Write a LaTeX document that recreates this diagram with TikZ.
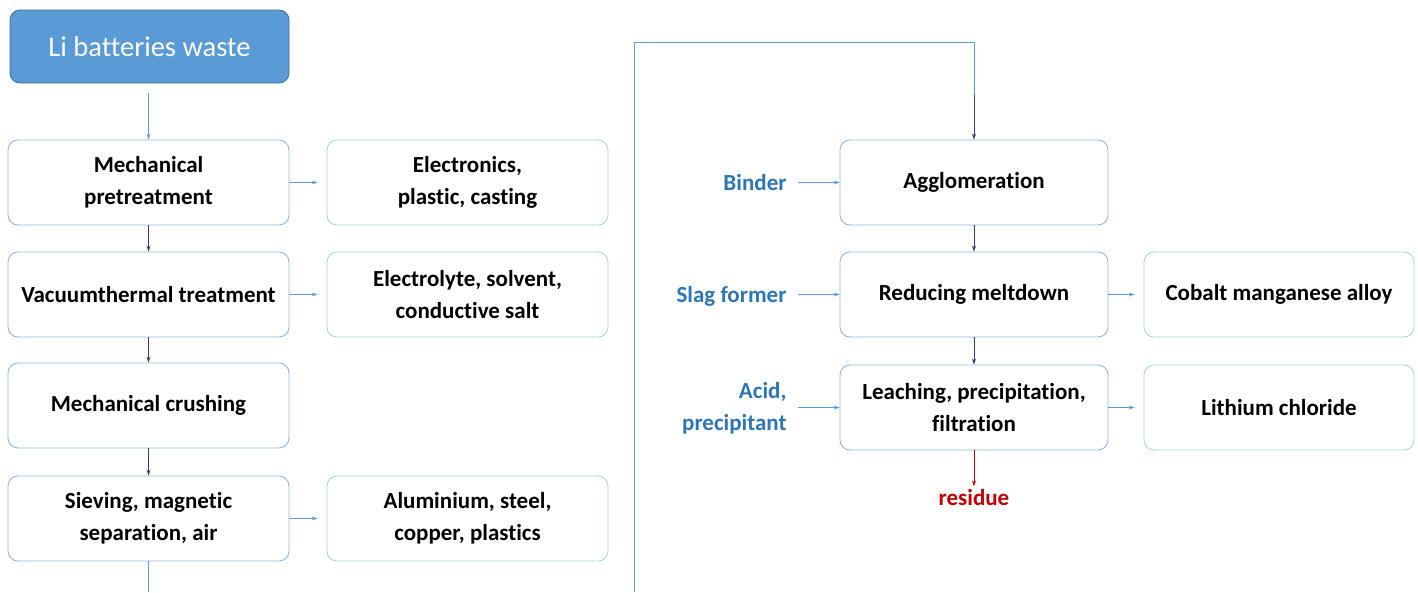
\documentclass[tikz,border=0pt]{standalone}
\usepackage{fontspec}
\setmainfont{Carlito}[Ligatures=CommonOff]
\usetikzlibrary{arrows.meta}
\definecolor{boxblue}{HTML}{8EB4E3}
\definecolor{boxgreen}{HTML}{A9D9C4}
\definecolor{wasteblue}{HTML}{5B9BD5}
\definecolor{wasteedge}{HTML}{41719C}
\definecolor{arrowblue}{HTML}{5B9BD5}
\definecolor{navy}{HTML}{2F3F73}
\definecolor{labelblue}{HTML}{2E75B6}
\definecolor{residuered}{HTML}{C00000}
\tikzset{
  stage/.style={draw=boxblue, line width=0.9pt, rounded corners=10pt, minimum width=281pt,
    minimum height=85pt, inner sep=0pt, align=center, font=\bfseries\fontsize{23}{32}\selectfont},
  product/.style={stage, draw=boxgreen},
  feed/.style={anchor=east, align=right, text=labelblue, font=\bfseries\fontsize{23}{32}\selectfont},
  flow/.style={draw=navy, line width=0.9pt, -{Stealth[length=6pt,width=4pt]}},
  side/.style={draw=arrowblue, line width=0.9pt, -{Stealth[length=6pt,width=4pt]}},
  loop/.style={draw=arrowblue, line width=0.9pt}
}
\begin{document}
\begin{tikzpicture}[x=1pt,y=-1pt]
\useasboundingbox (0,0) rectangle (1418,592);
\node[draw=wasteedge, fill=wasteblue, line width=0.9pt, rounded corners=10pt, minimum width=279pt,
  minimum height=73pt, text=white, font=\fontsize{28.5}{32}\selectfont] (waste) at (149.5,46.5) {Li batteries waste};
% left column
\node[stage] (pretreat) at (148.5,182.5) {Mechanical\\pretreatment};
\node[stage] (vacuum) at (148.5,294.5) {Vacuumthermal treatment};
\node[stage] (crush) at (148.5,405.5) {Mechanical crushing};
\node[stage] (sieve) at (148.5,518.5) {Sieving, magnetic\\separation, air};
\node[product] (electronics) at (467.5,182.5) {Electronics,\\plastic, casting};
\node[product] (electrolyte) at (467.5,294.5) {Electrolyte, solvent,\\conductive salt};
\node[product] (metals) at (467.5,518.5) {Aluminium, steel,\\copper, plastics};
\draw[side] (pretreat.north |- waste.south) ++(0,10) -- (pretreat.north);
\draw[flow] (pretreat) -- (vacuum);
\draw[flow] (vacuum) -- (crush);
\draw[flow] (crush) -- (sieve);
\draw[side, shorten >=9pt] (pretreat) -- (electronics);
\draw[side, shorten >=9pt] (vacuum) -- (electrolyte);
\draw[side, shorten >=9pt] (sieve) -- (metals);
% right column
\node[stage, minimum width=268pt] (agglo) at (974,182.5) {Agglomeration};
\node[stage, minimum width=268pt] (melt) at (974,294.5) {Reducing meltdown};
\node[stage, minimum width=268pt] (leach) at (974,407.5) {Leaching, precipitation,\\filtration};
\node[product, minimum width=270pt] (alloy) at (1279,294.5) {Cobalt manganese alloy};
\node[product, minimum width=270pt] (licl) at (1279,407.5) {Lithium chloride};
\node[feed] (binder) at (790,183) {Binder};
\node[feed] (slag) at (790,296) {Slag former};
\node[feed] (acid) at (790,408) {Acid,\\precipitant};
\node[text=residuered, font=\bfseries\fontsize{23}{26}\selectfont] (residue) at (974,498) {residue};
\draw[side, shorten <=8pt] (binder.east |- agglo.west) -- (agglo.west);
\draw[side, shorten <=8pt] (slag.east |- melt.west) -- (melt.west);
\draw[side, shorten <=8pt] (acid.east |- leach.west) -- (leach.west);
\draw[flow] (agglo) -- (melt);
\draw[flow] (melt) -- (leach);
\draw[side, shorten >=9pt] (melt) -- (alloy);
\draw[side, shorten >=9pt] (leach) -- (licl);
\draw[draw=residuered, line width=0.9pt, -{Stealth[length=6pt,width=4pt]}] (leach.south) -- (residue.north);
% connection between the two columns
\coordinate (leftend) at (148.5,592);
\coordinate (rightend) at (634,592);
\coordinate (topleft) at (634,42);
\coordinate (topright) at (974,42);
\draw[loop] (sieve.south) -- (leftend);
\draw[loop] (rightend) -- (topleft) -- (topright) -- ++(0,53);
\draw[flow] (974,95) -- (agglo.north);
\end{tikzpicture}
\end{document}
